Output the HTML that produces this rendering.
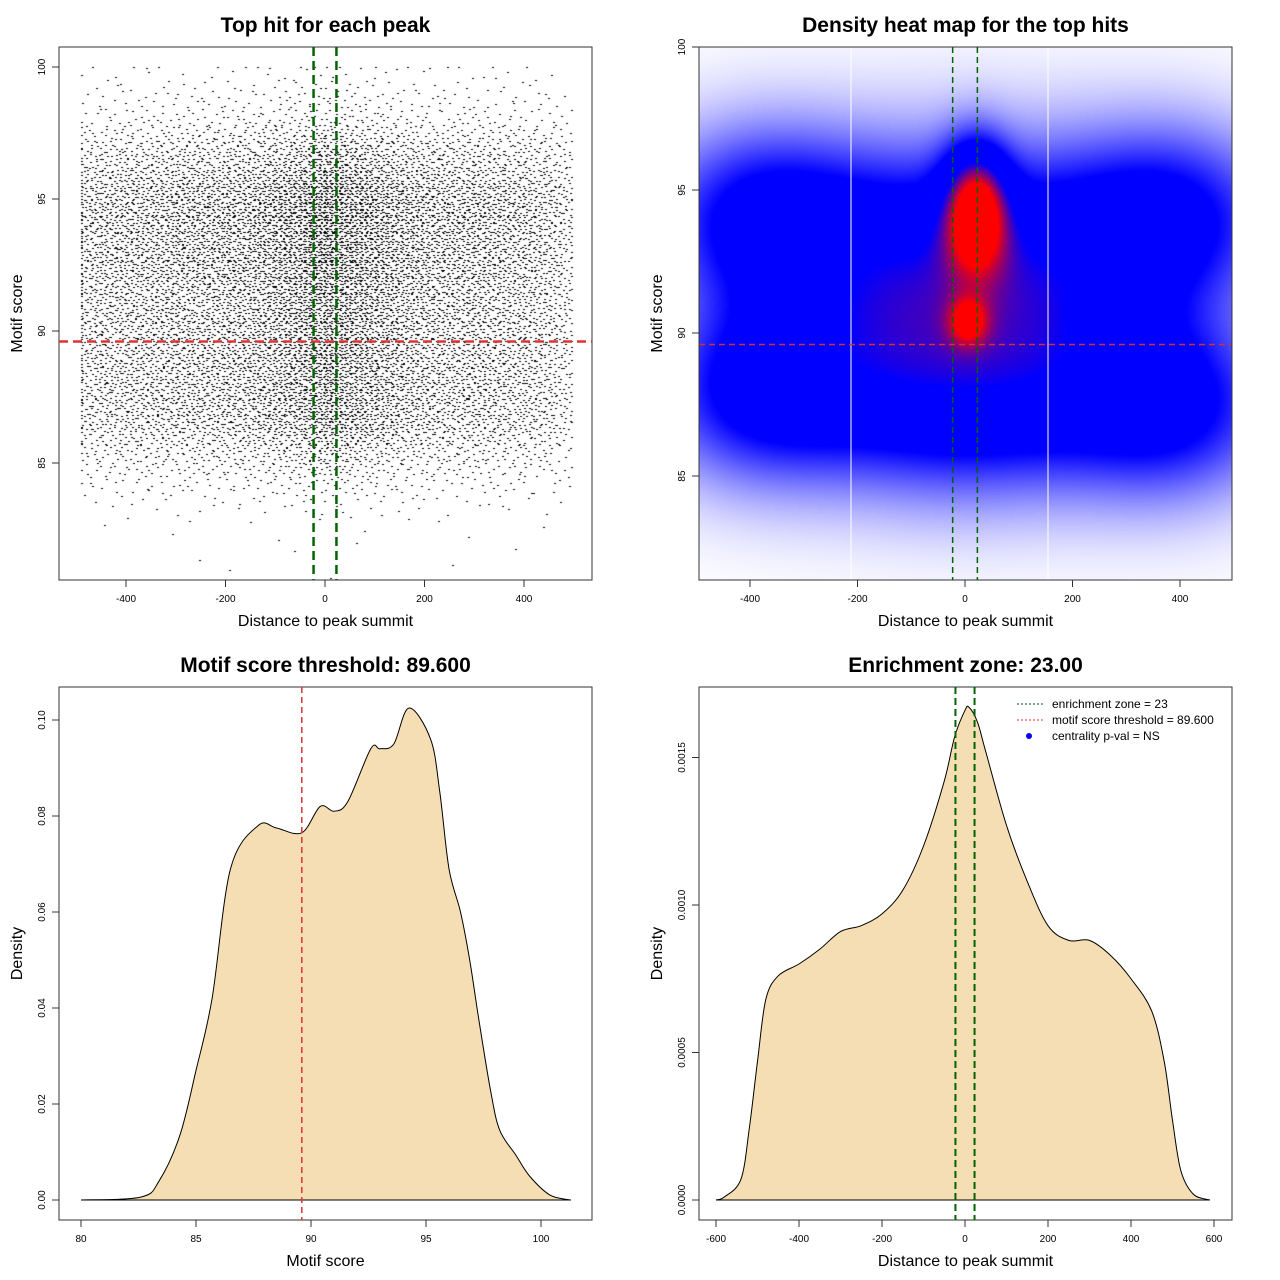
<!DOCTYPE html>
<html><head><meta charset="utf-8">
<style>
html,body{margin:0;padding:0;background:#fff;}
#wrap{position:relative;width:1280px;height:1280px;font-family:"Liberation Sans",sans-serif;}
canvas{position:absolute;}
svg{position:absolute;left:0;top:0;}
</style></head>
<body>
<div id="wrap">
<canvas id="scat" width="533" height="533" style="left:59px;top:47px"></canvas>
<canvas id="heat" width="533" height="533" style="left:699px;top:47px"></canvas>
<svg id="s" width="1280" height="1280"></svg>
</div>
<script>
// Motif score density (panel 3)
const scoreX = [80,82.6,83.4,84.3,85,85.7,86.5,87.7,88.5,89.6,90.4,91,91.6,92.6,93,93.6,94.26,95.2,95.6,96,96.5,96.9,97.3,97.8,98.2,98.9,99.5,100.4,101.3];
const scoreDens = [0,0.0006,0.004,0.0135,0.027,0.042,0.069,0.078,0.0775,0.0765,0.082,0.081,0.083,0.094,0.094,0.095,0.1025,0.096,0.085,0.069,0.060,0.050,0.0375,0.023,0.0146,0.0094,0.005,0.001,0];
// Distance density (panel 4)
const distX = [-600,-580,-540,-520,-500,-480,-450,-400,-350,-300,-250,-200,-150,-100,-50,-25,0,10,30,50,100,150,200,250,300,350,400,450,480,500,520,550,590];
const distDens = [0,0.00001,0.00007,0.00024,0.00047,0.00068,0.00076,0.0008,0.00085,0.00091,0.00093,0.00097,0.00105,0.0012,0.00142,0.00157,0.00166,0.00167,0.00162,0.00152,0.00127,0.00108,0.00093,0.00088,0.00088,0.00083,0.00075,0.00064,0.00047,0.00027,0.0001,0.00002,0];
// Heatmap kernel blobs
const blobX = [-380,-380,380,380,0,0,-170,170,20,5];
const blobY = [94,88,94,87.5,92.5,87.5,91,91,94.4,90.4];
const blobSX = [140,140,140,140,180,180,140,140,42,26];
const blobSY = [2.2,2.2,2.2,2.2,2.8,2.3,3,3,1.5,0.6];
const blobW = [0.5,0.5,0.5,0.5,0.45,0.45,0.35,0.35,0.85,0.38];
const enrich = 23, threshold = 89.6, nPoints = 15000;

const NS="http://www.w3.org/2000/svg", svg=document.getElementById('s');
function el(tag,attrs,parent,text){const e=document.createElementNS(NS,tag);for(const k in attrs)e.setAttribute(k,attrs[k]);if(text!==undefined)e.textContent=text;(parent||svg).appendChild(e);return e;}
function lin(d0,d1,r0,r1){return v=>r0+(v-d0)*(r1-r0)/(d1-d0);}

function axes(p){
  const g=el('g',{});
  
  
  const t=el('text',{x:(p.L+p.R)/2,y:p.T-15,'text-anchor':'middle','font-size':21,'font-weight':'bold'},g,p.title);
  
  const b=el('rect',{x:p.L,y:p.T,width:p.R-p.L,height:p.B-p.T,fill:'none',stroke:'#333','stroke-width':1},g);
  
  const xt=p.xt, yt=p.yt;
  el('line',{x1:p.sx(xt[0]),x2:p.sx(xt[xt.length-1]),y1:p.B,y2:p.B,stroke:'#333'},g);
  xt.forEach((v,i)=>{const x=p.sx(v);el('line',{x1:x,x2:x,y1:p.B,y2:p.B+7,stroke:'#333'},g);
    const tl=el('text',{x:x,y:p.B+22,'text-anchor':'middle','font-size':10},g,p.xl[i]);
    });
  el('line',{y1:p.sy(yt[0]),y2:p.sy(yt[yt.length-1]),x1:p.L,x2:p.L,stroke:'#333'},g);
  yt.forEach((v,i)=>{const y=p.sy(v);el('line',{y1:y,y2:y,x1:p.L,x2:p.L-7,stroke:'#333'},g);
    const tl=el('text',{x:p.L-14,y:y,'text-anchor':'middle','font-size':10,transform:`rotate(-90 ${p.L-14} ${y})`},g,p.yl[i]);
    });
  const xa=el('text',{x:(p.L+p.R)/2,y:p.B+46,'text-anchor':'middle','font-size':16},g,p.xlab);
  
  const yx=p.L-37, yy=(p.T+p.B)/2;
  const ya=el('text',{x:yx,y:yy,'text-anchor':'middle','font-size':16,transform:`rotate(-90 ${yx} ${yy})`},g,p.ylab);
  
  return g;
}
function vline(g,x,T,B,col,w,dash,name){const l=el('line',{x1:x,x2:x,y1:T,y2:B,stroke:col,'stroke-width':w,'stroke-dasharray':dash},g);}
function hline(g,y,L,R,col,w,dash,name){const l=el('line',{x1:L,x2:R,y1:y,y2:y,stroke:col,'stroke-width':w,'stroke-dasharray':dash},g);}

function makeInv(xs,ds,lo,hi){
  const N=400,grid=[],cdf=[];let acc=0;
  for(let i=0;i<=N;i++){const x=lo+(hi-lo)*i/N;let d=0;
    for(let j=0;j<xs.length-1;j++){if(x>=xs[j]&&x<=xs[j+1]){d=ds[j]+(ds[j+1]-ds[j])*(x-xs[j])/(xs[j+1]-xs[j]);break;}}
    acc+=d;grid.push(x);cdf.push(acc);}
  return u=>{const t=u*acc;let i=0;while(i<N&&cdf[i]<t)i++;return grid[i];};
}
function halton(i,b){let f=1,r=0;while(i>0){f/=b;r+=f*(i%b);i=Math.floor(i/b);}return r;}

// Panel 1
const p1={name:'top-hit-scatter-panel',L:59,R:592,T:47,B:580,title:'Top hit for each peak',xlab:'Distance to peak summit',ylab:'Motif score',
  sx:lin(0,400,325,524),sy:lin(90,95,331,199),xt:[-400,-200,0,200,400],xl:['-400','-200','0','200','400'],yt:[85,90,95,100],yl:['85','90','95','100']};
const g1=axes(p1);
{const c=document.getElementById('scat').getContext('2d');c.fillStyle='#000';
 const invY=makeInv(scoreX,scoreDens,80,102), invX=makeInv(distX,distDens,-500,500);
 for(let i=1;i<=nPoints;i++){const u=halton(i,2),v=halton(i,3);
   let x=invX(u); x=Math.max(-490,Math.min(495,x)); let y=invY(v); y=Math.min(100,y);
   const px=Math.round(p1.sx(x)-59), py=Math.round(p1.sy(y)-47);
   if(py<0||py>532)continue; c.fillRect(px,py,2,1);}
}
vline(g1,p1.sx(-enrich),47,580,'#006400',2.5,'9,5','enrichment-line-left');
vline(g1,p1.sx(enrich),47,580,'#006400',2.5,'9,5','enrichment-line-right');
hline(g1,p1.sy(threshold),59,592,'#dd3333',2.5,'9,5','threshold-line');

// Panel 2
const p2={name:'density-heatmap-panel',L:699,R:1232,T:47,B:580,title:'Density heat map for the top hits',xlab:'Distance to peak summit',ylab:'Motif score',
  sx:lin(0,400,965,1180),sy:lin(90,95,333,190),xt:[-400,-200,0,200,400],xl:['-400','-200','0','200','400'],yt:[85,90,95,100],yl:['85','90','95','100']};
const g2=axes(p2);
{const c=document.getElementById('heat').getContext('2d');const img=c.createImageData(533,533);
 const ix=lin(965-699,1180-699,0,400), iy=lin(333-47,190-47,90,95);
 for(let py=0;py<533;py++){const y=iy(py);for(let px=0;px<533;px++){const x=ix(px);let f=0;
   for(let k=0;k<blobX.length;k++){const dx=(x-blobX[k])/blobSX[k],dy=(y-blobY[k])/blobSY[k];f+=blobW[k]*Math.exp(-0.5*(dx*dx+dy*dy));}
   let r,gg,b;
   if(f<0.45){const t=Math.pow(f/0.45,0.9);r=255*(1-t);gg=255*(1-t);b=255;}
   else if(f<0.8){r=0;gg=0;b=255;}
   else{const t=Math.min(1,(f-0.8)/0.35);r=255*t;gg=0;b=255*(1-t);}
   const o=(py*533+px)*4;img.data[o]=r;img.data[o+1]=gg;img.data[o+2]=b;img.data[o+3]=255;}}
 c.putImageData(img,0,0);}
vline(g2,851,47,580,'#ffffff',1,'none','white-grid-line-left');
vline(g2,1048,47,580,'#ffffff',1,'none','white-grid-line-right');
vline(g2,p2.sx(-enrich),47,580,'#006400',1.5,'6,4','enrichment-line-left');
vline(g2,p2.sx(enrich),47,580,'#006400',1.5,'6,4','enrichment-line-right');
hline(g2,p2.sy(threshold),699,1232,'#cc3333',1.5,'6,4','threshold-line');
el('rect',{x:699,y:47,width:533,height:533,fill:'none',stroke:'#333'},g2);

function densArea(g,p,xs,ds,name){
  let d=`M${p.sx(xs[0])},${p.sy(0)}`;
  const pts=xs.map((x,i)=>[p.sx(x),p.sy(ds[i])]);
  d+=` L${pts[0][0]},${pts[0][1]}`;
  for(let i=0;i<pts.length-1;i++){const p0=pts[Math.max(0,i-1)],a=pts[i],b=pts[i+1],p3=pts[Math.min(pts.length-1,i+2)];
    d+=` C${a[0]+(b[0]-p0[0])/6},${a[1]+(b[1]-p0[1])/6} ${b[0]-(p3[0]-a[0])/6},${b[1]-(p3[1]-a[1])/6} ${b[0]},${b[1]}`;}
  d+=` L${pts[pts.length-1][0]},${p.sy(0)} Z`;
  const a=el('path',{d:d,fill:'#f5deb3',stroke:'#000','stroke-width':1},g);
  
}
// Panel 3
const p3={name:'motif-score-density-panel',L:59,R:592,T:687,B:1220,title:'Motif score threshold: 89.600',xlab:'Motif score',ylab:'Density',
  sx:lin(80,100,81,541),sy:lin(0,0.1,1200,720),xt:[80,85,90,95,100],xl:['80','85','90','95','100'],yt:[0,0.02,0.04,0.06,0.08,0.1],yl:['0.00','0.02','0.04','0.06','0.08','0.10']};
const g3=axes(p3);
densArea(g3,p3,scoreX,scoreDens,'score-density-area');
vline(g3,p3.sx(threshold),687,1220,'#dd3333',1.5,'6,4','threshold-line');

// Panel 4
const p4={name:'distance-density-panel',L:699,R:1232,T:687,B:1220,title:'Enrichment zone: 23.00',xlab:'Distance to peak summit',ylab:'Density',
  sx:lin(0,400,965,1131),sy:lin(0,0.001,1200,905),xt:[-600,-400,-200,0,200,400,600],xl:['-600','-400','-200','0','200','400','600'],yt:[0,0.0005,0.001,0.0015],yl:['0.0000','0.0005','0.0010','0.0015']};
const g4=axes(p4);
densArea(g4,p4,distX,distDens,'distance-density-area');
vline(g4,p4.sx(-enrich),687,1220,'#006400',2,'7,4','enrichment-line-left');
vline(g4,p4.sx(enrich),687,1220,'#006400',2,'7,4','enrichment-line-right');
{const lg=el('g',{},g4);
 const ent=[['#006400','dot','enrichment zone = 23'],['#dd3333','dot','motif score threshold = 89.600'],['#0000ff','pt','centrality p-val = NS']];
 ent.forEach((e,i)=>{const y=704+i*16;const gi=el('g',{},lg);
   if(e[1]==='dot')el('line',{x1:1017,x2:1043,y1:y,y2:y,stroke:e[0],'stroke-width':1,'stroke-dasharray':'2,2'},gi);
   else el('circle',{cx:1029,cy:y,r:3,fill:e[0]},gi);
   el('text',{x:1052,y:y+4,'font-size':12},gi,e[2]);});}
</script>
</body></html>
